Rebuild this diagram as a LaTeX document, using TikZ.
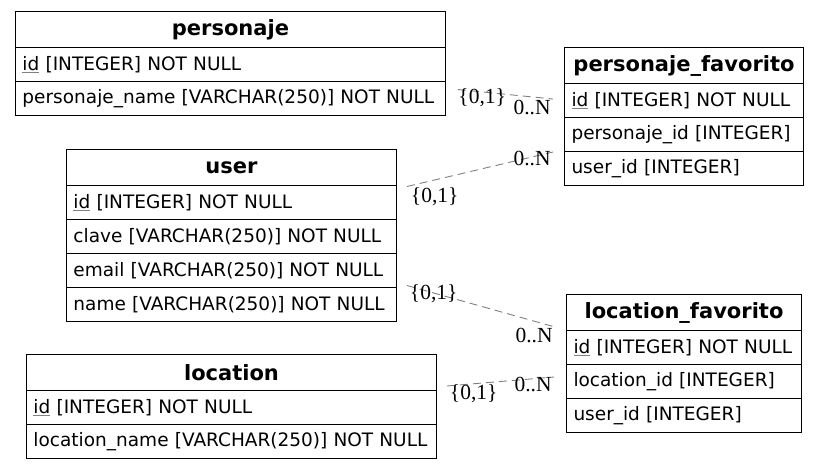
\documentclass[tikz,border=0pt]{standalone}
\usepackage{fontspec}
\setmainfont{DejaVu Sans}
\newfontfamily\cardfamily{Liberation Serif}
\usepackage{tikz}
\usetikzlibrary{matrix}
\newcommand{\pk}[1]{\rlap{\color{gray}\underline{\phantom{#1}}}#1}

\tikzset{
    ertable/.style={matrix of nodes, inner sep=0pt, anchor=north west, row sep=-\pgflinewidth,
        nodes={draw, anchor=center, text width=#1, inner xsep=7pt, inner ysep=0pt,
            minimum height=34pt, align=left, font=\fontsize{18.5}{22}\selectfont}},
    tablehead/.style={align=center, minimum height=36pt, font=\fontsize{21}{25}\selectfont\bfseries},
    rel/.style={draw=gray, line width=0.9pt, dash pattern=on 8pt off 5pt},
    card/.style={font=\cardfamily\fontsize{21.5}{25}\selectfont, inner sep=0pt},
}

\begin{document}
\begin{tikzpicture}[x=1pt, y=-1pt, line width=1pt]
    \useasboundingbox (0,0) rectangle (819,469);
    \matrix (personaje) [ertable=416pt] at (14.5,10.5) {
      |[tablehead]| personaje \\
      \pk{id} [INTEGER] NOT NULL \\
      personaje\_name [VARCHAR(250)] NOT NULL \\
    };
    \matrix (pfav) [ertable=225pt] at (563.5,46.5) {
      |[tablehead]| personaje\_favorito \\
      \pk{id} [INTEGER] NOT NULL \\
      personaje\_id [INTEGER] \\
      user\_id [INTEGER] \\
    };
    \matrix (user) [ertable=316pt] at (65.5,148.5) {
      |[tablehead]| user \\
      \pk{id} [INTEGER] NOT NULL \\
      clave [VARCHAR(250)] NOT NULL \\
      email [VARCHAR(250)] NOT NULL \\
      name [VARCHAR(250)] NOT NULL \\
    };
    \matrix (lfav) [ertable=221pt] at (565.5,293.5) {
      |[tablehead]| location\_favorito \\
      \pk{id} [INTEGER] NOT NULL \\
      location\_id [INTEGER] \\
      user\_id [INTEGER] \\
    };
    \matrix (location) [ertable=396pt] at (25.5,353.5) {
      |[tablehead]| location \\
      \pk{id} [INTEGER] NOT NULL \\
      location\_name [VARCHAR(250)] NOT NULL \\
    };
    \draw[rel] ([shift={(12pt,9pt)}]personaje-3-1.east) -- ([shift={(-11pt,1.5pt)}]pfav-2-1.west)
      node[card, pos=0, anchor=west, yshift=-8pt] {\{0,1\}}
      node[card, pos=1, anchor=east, xshift=-2pt, yshift=-8pt] {0..N};
    \draw[rel] ([shift={(10pt,16pt)}]user-2-1.east) -- ([shift={(-11pt,16.5pt)}]pfav-4-1.west)
      node[card, pos=0, anchor=west, xshift=3.5pt, yshift=-10pt] {\{0,1\}}
      node[card, pos=1, anchor=east, xshift=-2pt, yshift=-6pt] {0..N};
    \draw[rel] ([shift={(10pt,19pt)}]user-5-1.east) -- ([shift={(-11pt,20.5pt)}]lfav-2-1.west)
      node[card, pos=0, anchor=west, xshift=2.5pt, yshift=-8pt] {\{0,1\}}
      node[card, pos=1, anchor=east, xshift=-2pt, yshift=-8pt] {0..N};
    \draw[rel] ([shift={(10pt,21.5pt)}]location-2-1.east) -- ([shift={(-12pt,4.5pt)}]lfav-3-1.west)
      node[card, pos=0, anchor=west, xshift=2.5pt, yshift=-8pt] {\{0,1\}}
      node[card, pos=1, anchor=east, xshift=-2pt, yshift=-7pt] {0..N};
  \end{tikzpicture}
\end{document}
